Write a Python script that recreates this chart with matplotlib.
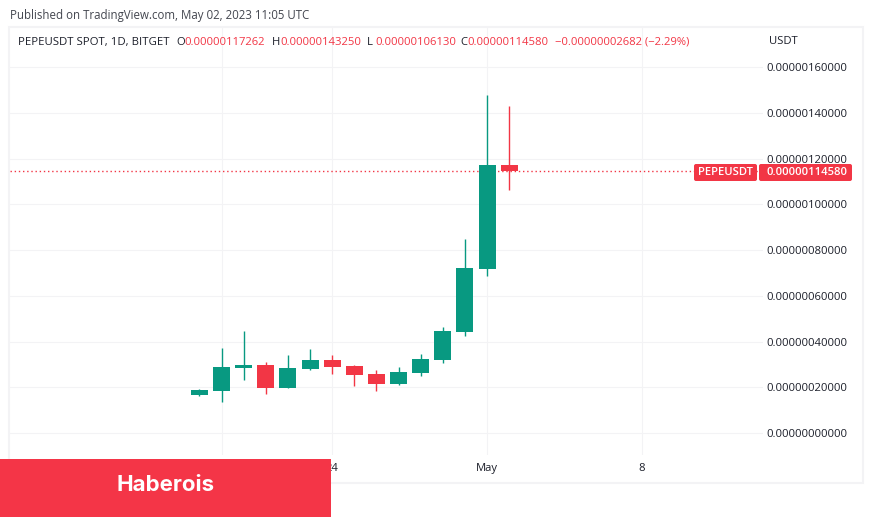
import matplotlib
matplotlib.use("Agg")
import matplotlib.pyplot as plt
from matplotlib.patches import Rectangle, FancyBboxPatch

# daily candles, units of 1e-6 USDT
opens  = [0.166, 0.184, 0.284, 0.297, 0.197, 0.280, 0.319, 0.293, 0.258, 0.214, 0.262, 0.319, 0.442, 0.717, 1.17262]
highs  = [0.192, 0.373, 0.446, 0.311, 0.341, 0.367, 0.341, 0.297, 0.276, 0.289, 0.346, 0.464, 0.849, 1.479, 1.43250]
lows   = [0.162, 0.137, 0.232, 0.171, 0.197, 0.276, 0.258, 0.206, 0.184, 0.210, 0.249, 0.306, 0.424, 0.687, 1.06130]
closes = [0.188, 0.289, 0.297, 0.197, 0.284, 0.319, 0.289, 0.254, 0.214, 0.267, 0.324, 0.446, 0.722, 1.172, 1.14580]

price_ticks = [0.0, 0.2, 0.4, 0.6, 0.8, 1.0, 1.2, 1.4, 1.6]
date_ticks = [1, 6, 13, 20]
date_labels = ["", "24", "May", "8"]

GREEN = "#089981"
RED = "#f23645"
GRID = "#f3f3f5"
TEXT = "#1c1f2a"
FONT = "Open Sans"
W, H = 873, 518

plt.rcParams["font.family"] = [FONT, "DejaVu Sans"]
fig = plt.figure(figsize=(W / 100, H / 100), dpi=100)


def put(x, y, s, color=TEXT, size=8.1, **kw):
    # x, y in image pixels from the top left
    fig.text(x / W, 1 - y / H, s, color=color, fontsize=size, va="center", **kw)


def box(x0, y0, x1, y1, **kw):
    fig.add_artist(Rectangle((x0 / W, 1 - y1 / H), (x1 - x0) / W, (y1 - y0) / H,
                             transform=fig.transFigure, **kw))


def badge(x0, y0, x1, y1):
    fig.add_artist(FancyBboxPatch((x0, H - y1), x1 - x0, y1 - y0, boxstyle="round,pad=0,rounding_size=2",
                                  transform=None, fc=RED, ec="none", zorder=3))


# main pane
left, right, top, bottom = 10, 763, 28, 455
ax = fig.add_axes([left / W, 1 - bottom / H, (right - left) / W, (bottom - top) / H])
px_per_bar = 22.13
px_per_unit = 228.6
ax.set_xlim((left - 199.4) / px_per_bar, (right - 199.4) / px_per_bar)
ax.set_ylim((433 - bottom) / px_per_unit, (433 - top) / px_per_unit)

for s in ax.spines.values():
    s.set_visible(False)
ax.set_axisbelow(True)
ax.grid(True, color=GRID, lw=0.8)

for i in range(len(opens)):
    up = closes[i] >= opens[i]
    col = GREEN if up else RED
    ax.vlines(i, lows[i], highs[i], color=col, lw=1.0, zorder=2)
    ax.bar(i, abs(closes[i] - opens[i]), bottom=min(opens[i], closes[i]), width=0.77, color=col, zorder=3)

ax.axhline(closes[-1], color=RED, lw=1.0, ls=(0, (1, 2)), zorder=1)

ax.yaxis.tick_right()
ax.set_yticks(price_ticks)
ax.set_yticklabels(["%.11f" % (v / 1e6) for v in price_ticks], fontsize=8.1, color=TEXT)
ax.set_xticks(date_ticks)
ax.set_xticklabels(date_labels, fontsize=8.1, color=TEXT)
ax.tick_params(axis="both", length=0)
ax.tick_params(axis="y", pad=2.5)
ax.tick_params(axis="x", pad=6)

# outer frame
box(9, 27, 863, 483, fill=False, ec=GRID, lw=1.5, zorder=1)

# header
put(10, 15, "Published on TradingView.com, May 02, 2023 11:05 UTC", color="#43464f", size=8.3)
put(18, 42, "PEPEUSDT SPOT, 1D, BITGET", size=8.2)
put(176, 42, "O")
put(184, 42, "0.00000117262", color=RED)
put(272, 42, "H")
put(280, 42, "0.00000143250", color=RED)
put(367, 42, "L")
put(375, 42, "0.00000106130", color=RED)
put(460, 42, "C")
put(467, 42, "0.00000114580", color=RED)
put(555, 42, "\u22120.00000002682 (\u22122.29%)", color=RED)
put(769, 41, "USDT")

# last price badges
badge(694, 164, 757, 181)
badge(759, 164, 852, 181)
put(725.5, 172.5, "PEPEUSDT", color="white", size=8.1, ha="center", fontweight="semibold")
put(807, 172.5, "0.00000114580", color="white", size=8.1, ha="center", fontweight="semibold")

# watermark
box(0, 459, 331, 517, fc="#f43547", ec="none", zorder=3)
put(166, 485, "Haberois", color="white", size=16, ha="center", fontweight="bold", zorder=4, family="Inter")

fig.savefig("out.png", dpi=100)
